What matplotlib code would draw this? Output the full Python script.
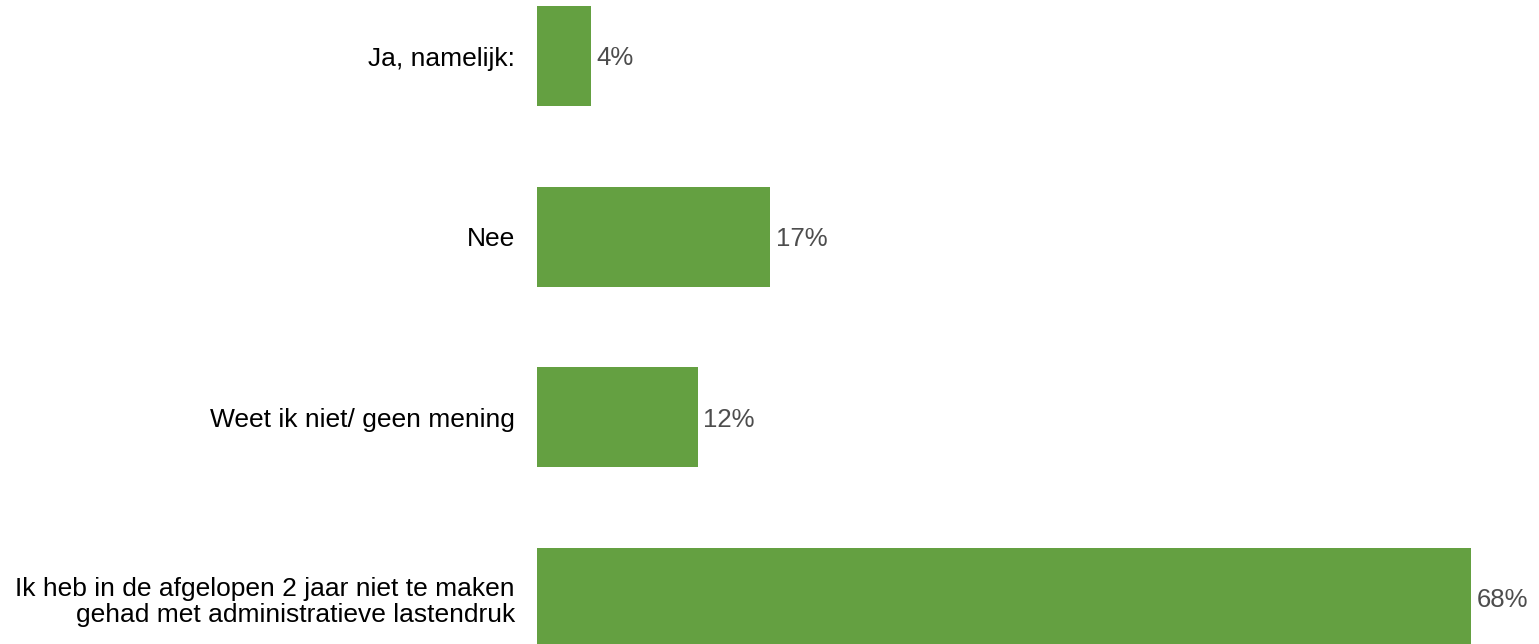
import matplotlib
matplotlib.use("Agg")
import matplotlib.pyplot as plt

# answers, top to bottom
categories = [
    "Ja, namelijk:",
    "Nee",
    "Weet ik niet/ geen mening",
    "Ik heb in de afgelopen 2 jaar niet te maken\ngehad met administratieve lastendruk",
]
values = [3.9, 17.0, 11.7, 68.0]
value_labels = ["4%", "17%", "12%", "68%"]

plt.rcParams['font.family'] = ['Liberation Sans', 'DejaVu Sans']

W, H = 1539, 644
fig = plt.figure(figsize=(W / 100, H / 100), dpi=100)
ax = fig.add_axes([537 / W, 0, 1002 / W, 1])

y = list(range(len(categories)))
ax.barh(y, values, height=0.553, color="#64a041")

for yi, v, lab in zip(y, values, value_labels):
    ax.text(v + 0.4, yi + 0.012, lab, va="center", ha="left", fontsize=18.5, color="#4d4d4d")

ax.set_xlim(0, 1002 / 13.735)
ax.set_ylim(3.254, -0.31)
ax.set_yticks(y)
ax.set_yticklabels(categories, fontsize=19, color="black", ha="right", linespacing=1.1)
ax.tick_params(axis="y", length=0, pad=16)
ax.set_xticks([])
for s in ax.spines.values():
    s.set_visible(False)

fig.savefig("out.png", dpi=100)
